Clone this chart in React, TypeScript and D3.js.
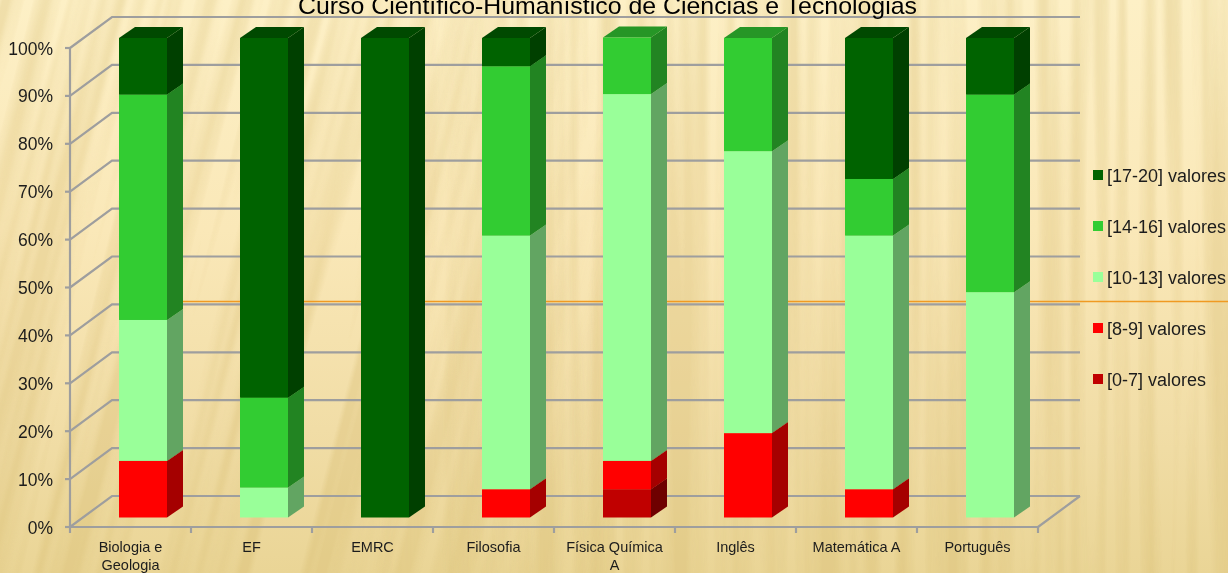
import React from 'react';
import * as d3 from 'd3';

const categories = ['Biologia e Geologia', 'EF', 'EMRC', 'Filosofia', 'Física Química A', 'Inglês', 'Matemática A', 'Português'];
const categoryLines = [['Biologia e', 'Geologia'], ['EF'], ['EMRC'], ['Filosofia'], ['Física Química', 'A'], ['Inglês'], ['Matemática A'], ['Português']];
const seriesNames = ['[0-7] valores', '[8-9] valores', '[10-13] valores', '[14-16] valores', '[17-20] valores'];
const grade0to7 = [0, 0, 0, 0, 5.9, 0, 0, 0];
const grade8to9 = [11.8, 0, 0, 5.9, 5.9, 17.6, 5.9, 0];
const grade10to13 = [29.4, 6.25, 0, 52.9, 76.5, 58.8, 52.9, 47];
const grade14to16 = [47, 18.75, 0, 35.3, 11.8, 23.6, 11.8, 41.2];
const grade17to20 = [11.8, 75, 100, 5.9, 0, 0, 29.4, 11.8];
const allSeries = [grade0to7, grade8to9, grade10to13, grade14to16, grade17to20];
const tickValues = [0, 10, 20, 30, 40, 50, 60, 70, 80, 90, 100];
const frontColors = ['#C00000', '#FF0000', '#99FF99', '#33CC33', '#006400'];
const sideColors = ['#6E0000', '#A50000', '#62A562', '#208420', '#004100'];
const topColors = ['#8A0000', '#B80000', '#6FBB6F', '#259625', '#004A00'];

const W = 1228, H = 573;
const wallDx = 42, wallDy = -31;
const barDx = 16, barDy = -11;

export default function App() {
  const x = d3.scaleBand<number>().domain(d3.range(categories.length)).range([70, 1038]);
  const yAxis = d3.scaleLinear().domain([0, 100]).range([527, 48]);
  const yBar = d3.scaleLinear().domain([0, 100]).range([517.5, 38]);
  const barW = 48;
  const stack = d3.stack<number>().keys(d3.range(5).map(String)).value((i, k) => allSeries[+k][i]);
  const layers = stack(d3.range(categories.length));
  const poly = (p: number[][]) => p.map(q => q.join(',')).join(' ');
  const font = '"Liberation Sans", sans-serif';
  const textColor = '#1c1c1c';

  return (
    <svg width={W} height={H} style={{ position: 'fixed', left: 0, top: 0, display: 'block' }} fontFamily={font}>
      <defs>
        <linearGradient id="bg" x1="0" y1="0" x2="0" y2="1">
          <stop offset="0" stopColor="#FDF0C6" />
          <stop offset="0.4" stopColor="#FAE8B8" />
          <stop offset="0.75" stopColor="#F1DDA6" />
          <stop offset="1" stopColor="#EAD596" />
        </linearGradient>
        <filter id="stripes" x="-200" y="0" width={W + 500} height={H} filterUnits="userSpaceOnUse" colorInterpolationFilters="sRGB">
          <feTurbulence type="fractalNoise" baseFrequency="0.055 0.0012" numOctaves="2" seed="11" />
          <feColorMatrix type="matrix" values="0 0 0 0 0.82  0 0 0 0 0.71  0 0 0 0 0.40  3.0 0 0 0 -1.15" />
        </filter>
        <filter id="soft" x="0" y="0" width={W} height={H} filterUnits="userSpaceOnUse">
          <feGaussianBlur stdDeviation="0.5" />
        </filter>
        <linearGradient id="leftFade" x1="0" y1="0" x2="1" y2="0">
          <stop offset="0.3" stopColor="#fff" />
          <stop offset="0.5" stopColor="#000" />
        </linearGradient>
        <linearGradient id="rightFade" x1="0" y1="0" x2="1" y2="0">
          <stop offset="0.3" stopColor="#000" />
          <stop offset="0.5" stopColor="#fff" />
        </linearGradient>
        <mask id="leftMask" maskUnits="userSpaceOnUse" x="0" y="0" width={W} height={H}>
          <rect width={W} height={H} fill="url(#leftFade)" />
        </mask>
        <mask id="rightMask" maskUnits="userSpaceOnUse" x="0" y="0" width={W} height={H}>
          <rect width={W} height={H} fill="url(#rightFade)" />
        </mask>
      </defs>
      <rect width={W} height={H} fill="url(#bg)" />
      <g mask="url(#rightMask)">
        <rect width={W} height={H} filter="url(#stripes)" opacity={0.28} />
      </g>
      <g mask="url(#leftMask)">
        <g transform="skewX(-14)">
          <rect x={-200} width={W + 500} height={H} filter="url(#stripes)" opacity={0.28} />
        </g>
      </g>

      <g filter="url(#soft)">
        <g stroke="#9E9E9E" strokeWidth={2.2} fill="none">
          {tickValues.map(t => (
            <polyline key={t} points={poly([[x.range()[0], yAxis(t)], [x.range()[0] + wallDx, yAxis(t) + wallDy], [x.range()[1] + wallDx, yAxis(t) + wallDy]])} />
          ))}
          <polyline points={poly([[x.range()[1], yAxis(0)], [x.range()[1] + wallDx, yAxis(0) + wallDy]])} />
          <line x1={70} x2={70} y1={yAxis(100)} y2={yAxis(0)} />
          <line x1={70} x2={x.range()[1]} y1={yAxis(0)} y2={yAxis(0)} />
          {tickValues.map(t => <line key={t} x1={65} x2={70} y1={yAxis(t)} y2={yAxis(t)} />)}
          {d3.range(categories.length + 1).map(i => <line key={i} x1={70 + i * x.bandwidth()} x2={70 + i * x.bandwidth()} y1={527} y2={533} />)}
        </g>

        <line x1={119} x2={W} y1={301.5} y2={301.5} stroke="#F09A20" strokeWidth={1.3} />

        {layers.map((layer, s) => (
          <g key={s}>
            {layer.map((d, i) => {
              if (d[1] - d[0] <= 0) return null;
              const x0 = x(i)! + 49, x1 = x0 + barW;
              const y0 = yBar(d[0]), y1 = yBar(d[1]);
              return (
                <g key={i}>
                  <polygon points={poly([[x1, y0], [x1 + barDx, y0 + barDy], [x1 + barDx, y1 + barDy], [x1, y1]])} fill={sideColors[s]} />
                  <polygon points={poly([[x0, y1], [x1, y1], [x1 + barDx, y1 + barDy], [x0 + barDx, y1 + barDy]])} fill={topColors[s]} />
                  <rect x={x0} y={y1} width={barW} height={y0 - y1} fill={frontColors[s]} />
                </g>
              );
            })}
          </g>
        ))}

        <text x={607.5} y={14} textAnchor="middle" fontSize={24} textLength={619} lengthAdjust="spacingAndGlyphs" fill="#000">Curso Científico-Humanístico de Ciências e Tecnologias</text>

        {tickValues.map(t => (
          <text key={t} x={53} y={yAxis(t) + 6.5} textAnchor="end" fontSize={17.5} fill={textColor}>{t}%</text>
        ))}

        {categoryLines.map((lines, i) => (
          <text key={i} textAnchor="middle" fontSize={14.5} fill={textColor}>
            {lines.map((l, j) => <tspan key={j} x={x(i)! + x.bandwidth() / 2} y={552 + j * 18}>{l}</tspan>)}
          </text>
        ))}

        {[4, 3, 2, 1, 0].map((s, k) => (
          <g key={s}>
            <rect x={1093} y={170 + k * 51} width={10} height={10} fill={frontColors[s]} />
            <text x={1107} y={181.5 + k * 51} fontSize={18} fill={textColor}>{seriesNames[s]}</text>
          </g>
        ))}
      </g>
    </svg>
  );
}
